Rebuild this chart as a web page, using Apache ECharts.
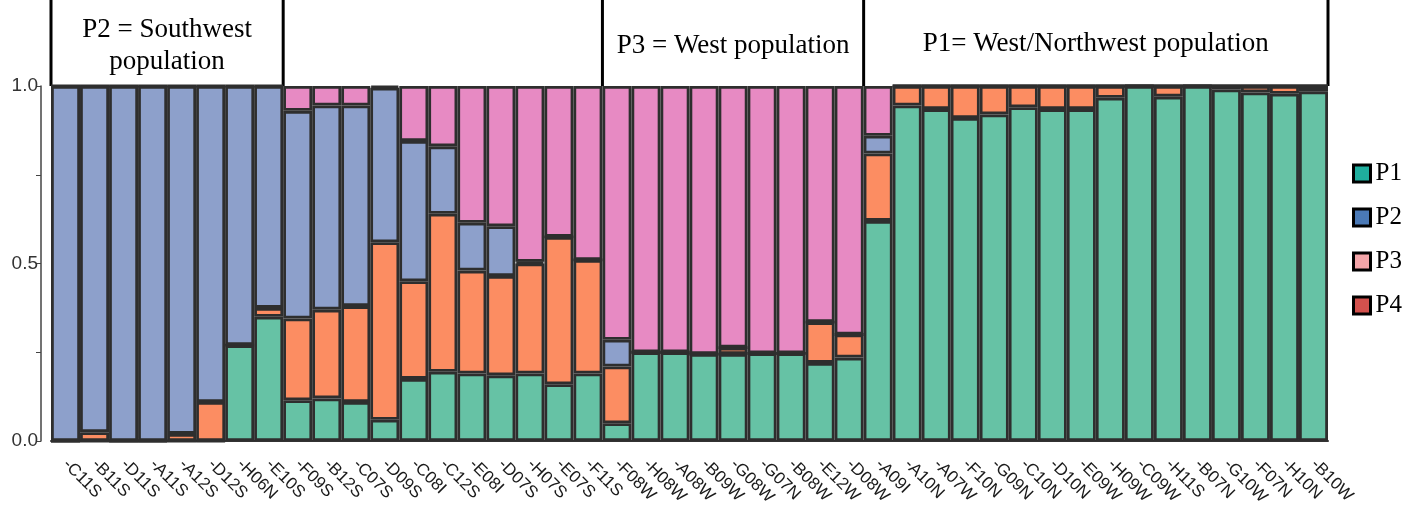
<!DOCTYPE html>
<html><head><meta charset="utf-8">
<script src="https://cdn.jsdelivr.net/npm/echarts@6/dist/echarts.min.js"></script>
<style>html,body{margin:0;padding:0;background:#fff}#c{width:1416px;height:526px}</style>
</head><body><div id="c"></div>
<script>
const categories = ['-C11S','-B11S','-D11S','-A11S','-A12S','-D12S','-H06N','-E10S',
 '-F09S','-B12S','-C07S','-D09S','-C08I','-C12S','-E08I','-D07S','-H07S','-E07S','-F11S',
 '-F08W','-H08W','-A08W','-B09W','-G08W','-G07N','-B08W','-E12W','-D08W',
 '-A09I','-A10N','-A07W','-F10N','-G09N','-C10N','-D10N','-E09W','-H09W','-C09W','-H11S','-B07N','-G10W','-F07N','-H10N','-B10W'];
const P1 = [0,0,0,0,0,0,0.27,0.35,
 0.115,0.12,0.11,0.06,0.175,0.195,0.19,0.185,0.19,0.16,0.19,
 0.05,0.25,0.25,0.245,0.245,0.247,0.247,0.22,0.235,
 0.62,0.945,0.935,0.91,0.92,0.94,0.935,0.935,0.967,1,0.97,1,0.99,0.982,0.978,0.985];
const P4 = [0,0.025,0,0,0.02,0.11,0,0.025,
 0.23,0.25,0.27,0.50,0.275,0.445,0.29,0.28,0.31,0.415,0.32,
 0.16,0,0,0,0.018,0,0,0.115,0.065,
 0.19,0.055,0.065,0.09,0.08,0.06,0.065,0.065,0.033,0,0.03,0,0.01,0.018,0.022,0.015];
const P2 = [1,0.975,1,1,0.98,0.89,0.73,0.625,
 0.585,0.575,0.565,0.435,0.395,0.19,0.135,0.14,0.005,0,0,
 0.075,0,0,0,0,0,0,0,0,
 0.05,0,0,0,0,0,0,0,0,0,0,0,0,0,0,0];
const P3 = [0,0,0,0,0,0,0,0,
 0.07,0.055,0.055,0.005,0.155,0.17,0.385,0.395,0.495,0.425,0.49,
 0.715,0.75,0.75,0.755,0.737,0.753,0.753,0.665,0.70,
 0.14,0,0,0,0,0,0,0,0,0,0,0,0,0,0,0];
const yTicks = ['0.0','','0.5','','1.0'];
const groups = [
  {from:0, to:8, lines:['P2 = Southwest','population'], dy:3},
  {from:8, to:19, lines:[], dy:0},
  {from:19, to:28, lines:['P3 = West population'], dy:3},
  {from:28, to:44, lines:['P1= West/Northwest population'], dy:1}
];
const legendNames = ['P1','P2','P3','P4'];
const legendColors = ['#1fae9e','#4a79b6','#f4a5a9','#d3514d'];
const barColors = {P1:'#66c2a5', P2:'#8da0cb', P3:'#e78ac3', P4:'#fc8d62'};

const chart = echarts.init(document.getElementById('c'));
const border = {borderColor:'#2e2e2e', borderWidth:2.8};
function mk(name, data){
  return {name, type:'bar', stack:'all', data, barCategoryGap:'0%',
    itemStyle:Object.assign({color:barColors[name]}, border),
    emphasis:{disabled:true}};
}
chart.setOption({
  animation:false,
  grid:{left:51, right:88, top:86, bottom:85},
  legend:{
    orient:'vertical', left:1347, top:156, itemGap:19,
    itemWidth:17, itemHeight:17, icon:'rect',
    textStyle:{fontFamily:'Liberation Serif', fontSize:25, color:'#000'},
    data: legendNames.map((n,i)=>({name:n, itemStyle:{color:legendColors[i], borderColor:'#000', borderWidth:3}}))
  },
  xAxis:{
    type:'category', data:categories, offset:16,
    axisLine:{lineStyle:{color:'#333', width:2}},
    axisTick:{inside:true, alignWithLabel:true, length:7, lineStyle:{color:'#333'}},
    axisLabel:{rotate:-45, interval:0, margin:5, fontFamily:'Liberation Sans', fontSize:17, color:'#1a1a1a'}
  },
  yAxis:{
    type:'value', min:0, max:1, interval:0.25, offset:10,
    axisLine:{show:true, lineStyle:{color:'#444', width:1.5}},
    axisTick:{show:true, length:5, lineStyle:{color:'#444'}},
    splitLine:{show:false},
    axisLabel:{margin:3, fontFamily:'Liberation Sans', fontSize:19, color:'#333',
      formatter:(v)=>yTicks[Math.round(v/0.25)]}
  },
  series:[mk('P1',P1), mk('P4',P4), mk('P2',P2), mk('P3',P3)]
});

// header boxes from axis positions
const c0 = chart.convertToPixel({xAxisIndex:0}, 0);
const c1 = chart.convertToPixel({xAxisIndex:0}, 1);
const bw = c1 - c0;
const edge = i => c0 - bw/2 + i*bw;
const yTop = chart.convertToPixel({yAxisIndex:0}, 1);
const g = [];
const xs = new Set();
groups.forEach(gr=>{ xs.add(gr.from); xs.add(gr.to); });
xs.forEach(i=>{
  g.push({type:'line', shape:{x1:edge(i), y1:0, x2:edge(i), y2:yTop}, style:{stroke:'#000', lineWidth:3}});
});
groups.forEach(gr=>{
  if(!gr.lines.length) return;
  const cx = (edge(gr.from)+edge(gr.to))/2;
  const txt = gr.lines.join('\n');
  g.push({type:'text', x:cx, y:yTop/2 + gr.dy, style:{text:txt, fill:'#000', font:'27px "Liberation Serif"', align:'center', verticalAlign:'middle', lineHeight:32}});
});
chart.setOption({graphic:g});
</script></body></html>
